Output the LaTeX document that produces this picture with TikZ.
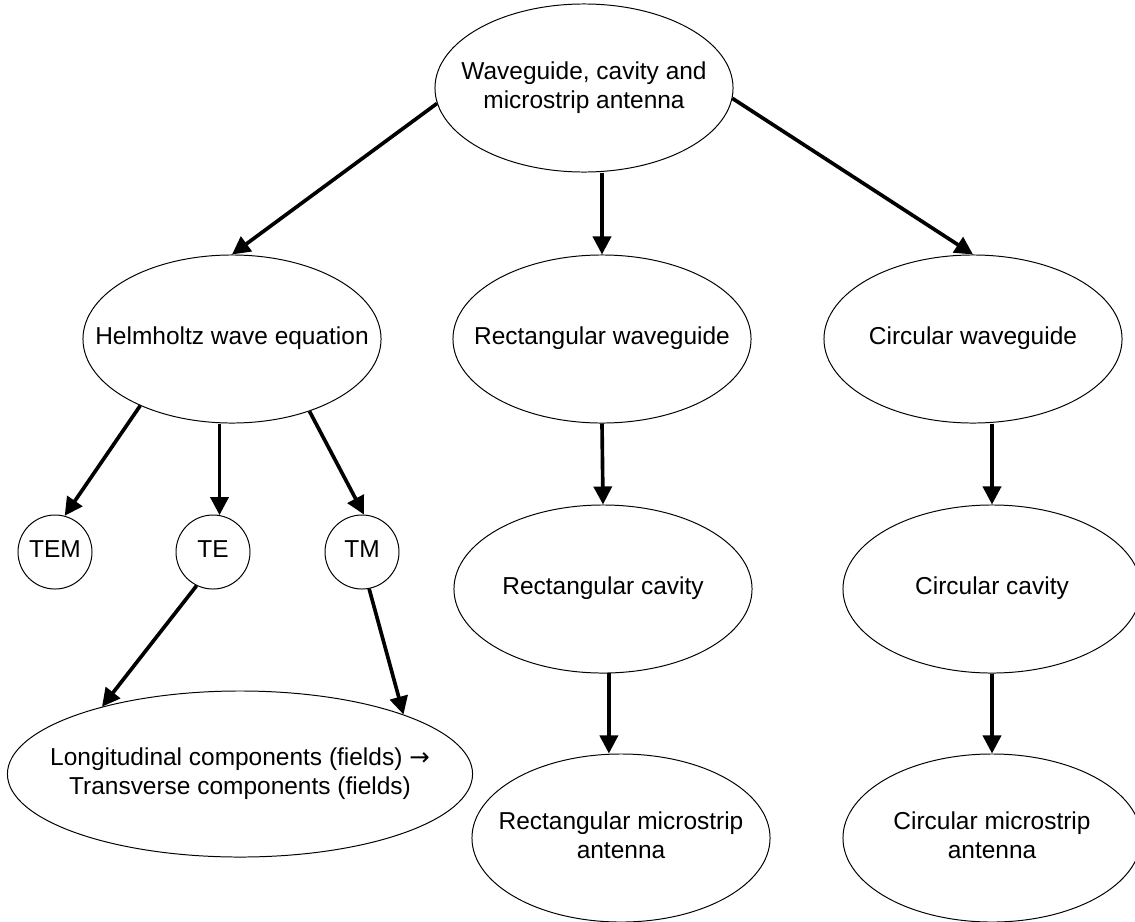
\documentclass[tikz,border=0pt]{standalone}
\usepackage{fontspec}
\setmainfont{Liberation Sans}
\newfontfamily\symfont{DejaVu Sans}
\usetikzlibrary{shapes.geometric,arrows.meta}
% text that does not widen its shape
\newcommand{\tight}[1]{\makebox[0pt]{\begin{tabular}{@{}c@{}}#1\end{tabular}}}
\begin{document}
\begin{tikzpicture}[
        x=0.025cm, y=-0.025cm,
        bubble/.style={draw, ellipse, line width=0.7pt, minimum width=7.45cm, minimum height=4.2cm, inner sep=0pt, font=\fontsize{17.4}{20.6}\selectfont},
        mode/.style={draw, circle, line width=0.7pt, minimum size=1.85cm, inner sep=0pt, font=\fontsize{17.4}{20.6}\selectfont},
        arrow/.style={-{Triangle[length=0.45cm, width=0.45cm]}, line width=2.6pt}
    ]
        \useasboundingbox (0,0) rectangle (1135,921);

        % 顶层
        \node[bubble] (root) at (584, 88) {\tight{Waveguide, cavity and\\microstrip antenna}};

        % 第二层
        \node[bubble] (helm) at (232, 339) {\tight{Helmholtz wave equation}};
        \node[bubble] (rwg) at (602, 339) {\tight{Rectangular waveguide}};
        \node[bubble] (cwg) at (973, 339) {\tight{Circular waveguide}};

        % 模式
        \node[mode] (tem) at (55, 552) {\tight{TEM}};
        \node[mode] (te) at (213, 552) {\tight{TE}};
        \node[mode] (tm) at (362, 552) {\tight{TM}};
        \node[bubble, minimum width=11.625cm, minimum height=4.15cm] (comp) at (240, 774) {\tight{Longitudinal components (fields) {\symfont →}\\Transverse components (fields)}};

        % 腔体与天线
        \node[bubble] (rcav) at (603, 589) {\tight{Rectangular cavity}};
        \node[bubble] (ccav) at (992, 589) {\tight{Circular cavity}};
        \node[bubble] (rms) at (621, 838) {\tight{Rectangular microstrip\\antenna}};
        \node[bubble] (cms) at (992, 838) {\tight{Circular microstrip\\antenna}};

        \draw[arrow] (root.186) -- (helm.north);
        \draw[arrow] (root.south -| rwg.north) -- (rwg.north);
        \draw[arrow] (root.-4) -- (cwg.north);

        \draw[arrow] (helm.216) -- (tem.75);
        \draw[arrow] (te.80 |- helm.south) -- (te.80);
        \draw[arrow] (helm.-43) -- (tm.87);
        \draw[arrow] (te.244) -- (comp.154);
        \draw[arrow] (tm.-79) -- (comp.20);

        \draw[arrow] (rwg.south) -- (rcav.north);
        \draw[arrow] (rcav.-86) -- (rcav.-86 |- rms.north);
        \draw[arrow] (cwg.south -| ccav.north) -- (ccav.north);
        \draw[arrow] (ccav.south) -- (cms.north);
    \end{tikzpicture}
\end{document}
